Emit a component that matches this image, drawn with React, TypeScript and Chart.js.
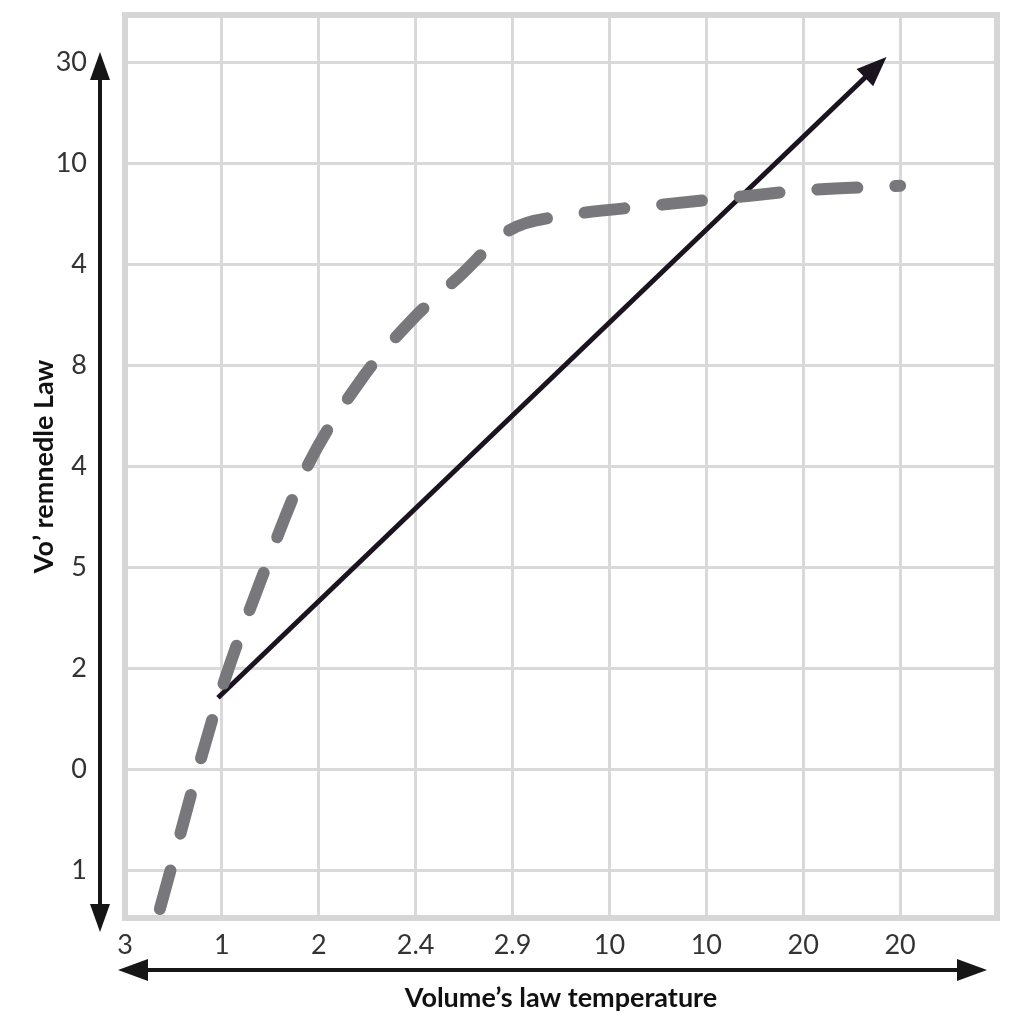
import React, { useEffect, useRef } from "react";
import { Chart, registerables } from "chart.js";

Chart.register(...registerables);

// ---- data ----
const xTickLabels = ["3", "1", "2", "2.4", "2.9", "10", "10", "20", "20"];
const yTickLabels = ["1", "0", "2", "5", "4", "8", "4", "10", "30"];
const curveX = [0.36, 0.96, 1.44, 1.86, 2.43, 2.96, 3.46, 3.97, 4.59, 5.42, 6.24, 6.97, 8.0];
const curveY = [-0.38, 1.68, 2.97, 3.96, 4.85, 5.45, 5.89, 6.34, 6.49, 6.58, 6.66, 6.73, 6.78];
const trendX = [0.96, 7.8];
const trendY = [1.71, 8.0];
const xTitle = "Volume\u2019s law temperature";
const yTitle = "Vo\u02bc remnedle Law";

const FONT = "Lato, 'Open Sans', 'DejaVu Sans', sans-serif";

function arrowHead(ctx: CanvasRenderingContext2D, tx: number, ty: number, angle: number, len: number, w: number) {
  ctx.save();
  ctx.translate(tx, ty);
  ctx.rotate(angle);
  ctx.beginPath();
  ctx.moveTo(0, 0);
  ctx.lineTo(-len, -w / 2);
  ctx.lineTo(-len, w / 2);
  ctx.closePath();
  ctx.fill();
  ctx.restore();
}

const framePlugin = {
  id: "frame",
  beforeDatasetsDraw(chart: any) {
    const { ctx, chartArea: a } = chart;
    ctx.save();
    ctx.strokeStyle = "#d6d6d6";
    ctx.lineWidth = 6;
    ctx.strokeRect(a.left, a.top, a.right - a.left, a.bottom - a.top);
    ctx.restore();
  },
  afterDatasetsDraw(chart: any) {
    const { ctx, chartArea: a } = chart;
    ctx.save();
    // trend arrow head
    const meta = chart.getDatasetMeta(1);
    const pts = meta.data;
    if (pts.length >= 2) {
      const p0 = pts[pts.length - 2];
      const p1 = pts[pts.length - 1];
      const ang = Math.atan2(p1.y - p0.y, p1.x - p0.x);
      ctx.fillStyle = "#1b1420";
      arrowHead(ctx, p1.x + Math.cos(ang) * 8, p1.y + Math.sin(ang) * 8, ang, 30, 24);
    }
    // axis arrows
    ctx.strokeStyle = "#161616";
    ctx.fillStyle = "#161616";
    ctx.lineWidth = 4;
    const vx = a.left - 25;
    const vt = a.top + 37;
    const vb = a.bottom + 14;
    ctx.beginPath();
    ctx.moveTo(vx, vt + 20);
    ctx.lineTo(vx, vb - 20);
    ctx.stroke();
    arrowHead(ctx, vx, vt, -Math.PI / 2, 28, 20);
    arrowHead(ctx, vx, vb, Math.PI / 2, 28, 20);
    const hy = a.bottom + 52;
    const hl = a.left - 7;
    const hr = a.right - 10;
    ctx.beginPath();
    ctx.moveTo(hl + 20, hy);
    ctx.lineTo(hr - 20, hy);
    ctx.stroke();
    arrowHead(ctx, hl, hy, Math.PI, 30, 22);
    arrowHead(ctx, hr, hy, 0, 30, 22);
    ctx.restore();
  },
};

export default function App() {
  const ref = useRef<HTMLCanvasElement | null>(null);
  useEffect(() => {
    if (!ref.current) return;
    const chart = new Chart(ref.current, {
      type: "line",
      data: {
        datasets: [
          {
            label: "curve",
            data: curveX.map((x, i) => ({ x, y: curveY[i] })),
            borderColor: "#78787c",
            borderWidth: 12,
            borderDash: [40, 38],
            borderCapStyle: "round",
            cubicInterpolationMode: "monotone",
            pointRadius: 0,
            fill: false,
          },
          {
            label: "trend",
            data: trendX.map((x, i) => ({ x, y: trendY[i] })),
            borderColor: "#1b1420",
            borderWidth: 5,
            pointRadius: 0,
            fill: false,
          },
        ],
      },
      options: {
        responsive: false,
        animation: false,
        layout: { padding: { top: 15, right: 27, left: 0, bottom: 0 } },
        plugins: { legend: { display: false }, tooltip: { enabled: false } },
        scales: {
          x: {
            type: "linear",
            min: 0,
            max: 9,
            afterBuildTicks: (s: any) => {
              s.ticks = xTickLabels.map((_, i) => ({ value: i })).concat([{ value: 9 }]);
            },
            afterFit: (s: any) => {
              s.height = 106;
              s.paddingLeft = 0;
              s.paddingRight = 0;
            },
            ticks: {
              autoSkip: false,
              maxRotation: 0,
              padding: 11,
              color: "#333",
              font: { family: FONT, size: 27 },
              callback: (v: any) => (xTickLabels[v] !== undefined ? xTickLabels[v] : ""),
            },
            grid: { color: "#d9d9d9", lineWidth: 3, drawTicks: false },
            border: { display: false },
            title: {
              display: true,
              text: xTitle,
              color: "#111",
              font: { family: FONT, size: 27, weight: "bold" },
              padding: { top: 0, bottom: 10 },
            },
          },
          y: {
            type: "linear",
            min: -0.47,
            max: 8.47,
            afterBuildTicks: (s: any) => {
              s.ticks = yTickLabels.map((_, i) => ({ value: i }));
            },
            afterFit: (s: any) => {
              s.width = 125;
              s.paddingTop = 0;
              s.paddingBottom = 0;
            },
            ticks: {
              autoSkip: false,
              padding: 38,
              color: "#333",
              font: { family: FONT, size: 27 },
              callback: (v: any) => (yTickLabels[v] !== undefined ? yTickLabels[v] : ""),
            },
            grid: { color: "#d9d9d9", lineWidth: 3, drawTicks: false },
            border: { display: false },
            title: {
              display: true,
              text: yTitle,
              color: "#111",
              font: { family: FONT, size: 27, weight: "bold" },
              padding: { top: 28, bottom: 0 },
            },
          },
        },
      },
      plugins: [framePlugin],
    } as any);
    return () => chart.destroy();
  }, []);
  return (
    <div style={{ position: "fixed", left: 0, top: 0, width: 1024, height: 1024, background: "#fff" }}>
      <canvas ref={ref} width={1024} height={1024} style={{ width: 1024, height: 1024, display: "block" }} />
    </div>
  );
}
